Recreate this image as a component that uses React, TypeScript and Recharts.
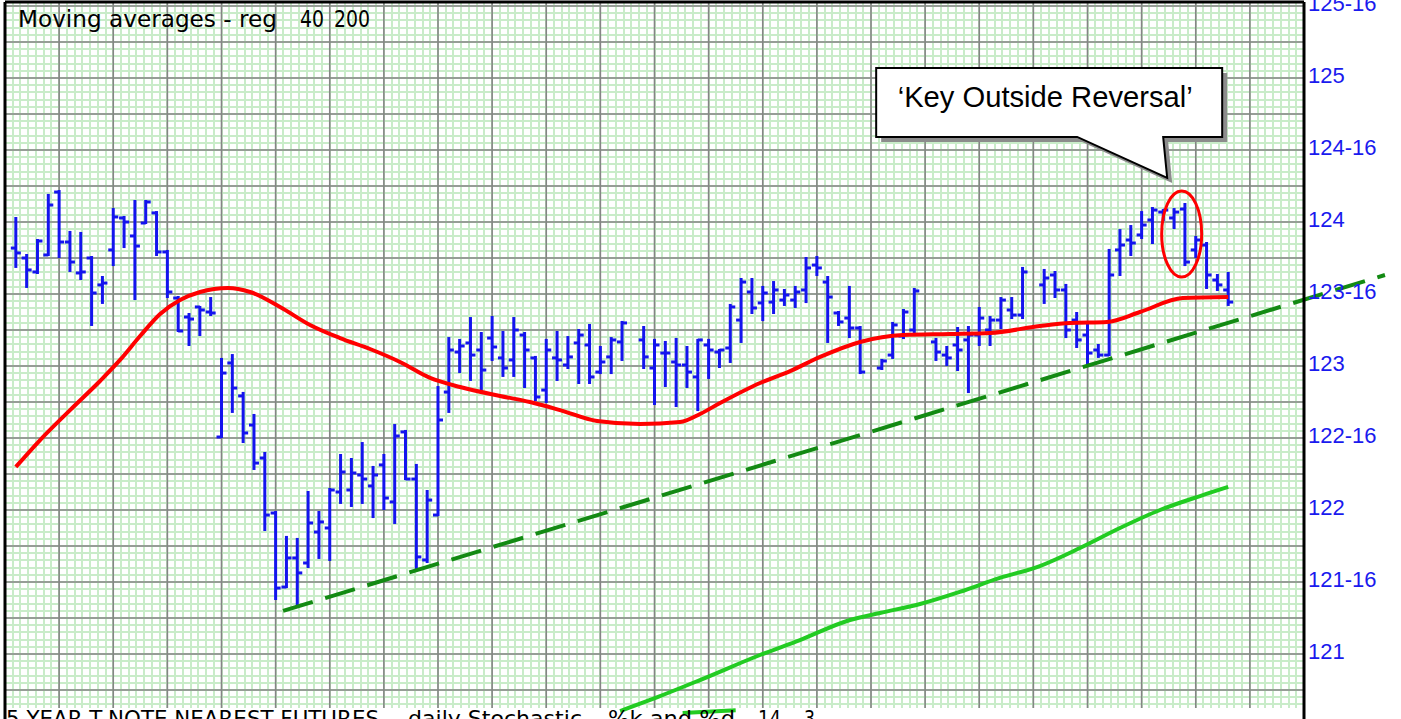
import React from "react";
import {
  ComposedChart,
  Bar,
  Line,
  XAxis,
  YAxis,
  CartesianGrid,
  ReferenceLine,
  ReferenceDot,
  ReferenceArea,
} from "recharts";

// ---------------- DATA ----------------
// trading-day slot index (holidays are null bars)
const dayIndex: number[] = Array.from({ length: 113 }, (_, i) => i);

const highs: (number | null)[] = [
  124.028, 123.771, 123.875, 124.188, 124.215, 123.931, 123.924, 123.757, 123.618, 124.09,
  124.035, 124.146, 124.146, 124.069, 123.799, 123.479, 123.361, 123.41, 123.472, 123.049,
  123.076, 122.813, 122.66, 122.396, 121.986, 121.813, 121.799, 122.125, 121.986, 122.146,
  122.382, 122.354, 122.465, 122.299, 122.382, 122.59, 122.549, 122.313, 122.132, 122.854,
  123.194, 123.181, 123.333, 123.229, 123.34, 123.236, 123.333, 123.229, 123.063, 123.181,
  123.236, 123.201, 123.25, 123.285, 123.132, 123.194, 123.306, null, 123.271, 123.181,
  123.167, 123.188, 123.132, 123.181, 123.181, 123.111, 123.424, 123.604, 123.604, 123.549,
  123.583, 123.528, 123.549, 123.75, 123.757, 123.618, 123.375, 123.549, 123.271, null,
  123.042, 123.299, 123.389, 123.535, null, 123.188, 123.132, 123.264, 123.271, 123.403,
  123.34, 123.472, 123.472, 123.681, null, 123.667, 123.653, 123.563, 123.368, 123.285,
  123.146, 123.806, 123.944, 123.972, 124.069, 124.097, 124.083, 124.09, 124.125, 123.896,
  123.854, 123.632, 123.646,
];

const lows: (number | null)[] = [
  123.688, 123.549, 123.646, 123.771, 123.757, 123.66, 123.604, 123.285, 123.438, 123.701,
  123.826, 123.465, 123.993, 123.771, 123.479, 123.243, 123.146, 123.215, 123.354, 122.507,
  122.681, 122.472, 122.285, 121.861, 121.382, 121.465, 121.333, 121.604, 121.667, 121.653,
  122.049, 122.028, 122.049, 121.951, 122.007, 121.91, 122.215, 121.59, 121.639, 121.965,
  122.681, 122.958, 122.903, 122.833, 123.042, 122.931, 122.931, 122.854, 122.764, 122.75,
  122.903, 122.986, 122.882, 122.882, 122.951, 122.951, 123.042, null, 122.986, 122.736,
  122.861, 122.722, 122.854, 122.694, 122.917, 122.993, 123.028, 123.167, 123.368, 123.319,
  123.368, 123.424, 123.41, 123.444, 123.632, 123.167, 123.285, 123.201, 122.951, null,
  122.979, 123.056, 123.194, 123.229, null, 123.042, 123.007, 122.972, 122.819, 123.146,
  123.146, 123.264, 123.333, 123.333, null, 123.438, 123.479, 123.201, 123.132, 123.021,
  123.063, 123.076, 123.632, 123.771, 123.889, 123.854, 124.014, 123.958, 123.701, 123.757,
  123.542, 123.528, 123.424,
];

const opens: (number | null)[] = [
  123.819, 123.75, 123.653, 123.771, 124.208, 123.861, 123.646, 123.75, 123.563, 123.806,
  124.028, 123.903, 123.993, 124.063, 123.792, 123.472, 123.34, 123.41, 123.375, 122.507,
  123.021, 122.792, 122.59, 122.361, 121.979, 121.465, 121.667, 121.632, 121.847, 121.875,
  122.125, 122.139, 122.243, 122.167, 122.313, 122.056, 122.542, 122.215, 121.653, 121.965,
  122.819, 123.097, 123.16, 123.111, 123.194, 123.056, 123.042, 123.215, 123.056, 122.833,
  123.056, 123.007, 123.16, 123.146, 122.958, 123.063, 123.167, null, 123.181, 122.986,
  123.09, 123.028, 123.007, 122.924, 123.146, 123.097, 123.125, 123.319, 123.514, 123.438,
  123.444, 123.458, 123.458, 123.528, 123.701, 123.583, 123.368, 123.333, 123.264, null,
  122.986, 123.076, 123.208, 123.25, null, 123.167, 123.076, 123.146, 123.181, 123.215,
  123.25, 123.319, 123.389, 123.354, null, 123.563, 123.632, 123.528, 123.319, 123.215,
  123.111, 123.076, 123.806, 123.875, 123.91, 124.014, 124.069, 124.028, 124.09, 123.806,
  123.84, 123.597, 123.528,
];

const closes: (number | null)[] = [
  123.785, 123.667, 123.868, 124.118, 123.861, 123.722, 123.653, 123.507, 123.576, 124.035,
  124.0, 123.833, 124.139, 123.792, 123.514, 123.243, 123.326, 123.389, 123.368, 122.951,
  122.847, 122.535, 122.326, 121.965, 121.458, 121.667, 121.563, 121.91, 121.917, 122.139,
  122.264, 122.257, 122.215, 122.243, 122.083, 122.514, 122.215, 121.674, 122.069, 122.625,
  123.111, 123.139, 123.076, 122.972, 123.132, 122.986, 123.25, 123.111, 122.785, 123.111,
  123.042, 123.063, 123.215, 122.924, 123.028, 123.181, 123.299, null, 123.063, 123.146,
  123.09, 123.007, 122.958, 123.181, 123.111, 123.111, 123.41, 123.583, 123.403, 123.507,
  123.528, 123.493, 123.514, 123.681, 123.681, 123.479, 123.306, 123.264, 122.958, null,
  123.035, 123.285, 123.375, 123.521, null, 123.097, 123.056, 123.111, 123.215, 123.333,
  123.319, 123.458, 123.354, 123.653, null, 123.611, 123.528, 123.25, 123.181, 123.09,
  123.076, 123.632, 123.84, 123.854, 123.979, 124.083, 124.083, 124.069, 123.722, 123.875,
  123.632, 123.563, 123.444,
];

// 40-day moving average (red)
const ma40Index = [
  0, 2.24, 5.01, 7.78, 9.63, 11.48, 13.33, 15.17, 17.02, 19.61, 21.64, 24.41, 27.18, 29.95,
  32.72, 35.49, 38.27, 41.04, 44.73, 47.5, 50.27, 53.69, 57.66, 61.36, 63.21, 65.06, 68.75,
  71.53, 74.3, 78.0, 81.96, 86.3, 90.0, 94.6, 97.4, 100.8, 103.85, 107.8, 112,
];
const ma40Values = [
  122.299, 122.486, 122.694, 122.896, 123.042, 123.208, 123.361, 123.458, 123.514, 123.542,
  123.514, 123.41, 123.285, 123.194, 123.118, 123.028, 122.917, 122.854, 122.792, 122.75,
  122.694, 122.618, 122.597, 122.611, 122.667, 122.743, 122.882, 122.965, 123.063, 123.167,
  123.215, 123.222, 123.229, 123.278, 123.299, 123.306, 123.375, 123.472, 123.479,
];

// 200-day moving average (green)
const ma200Index = [
  55.82, 58.6, 63.2, 68.75, 72.44, 77.06, 79.83, 83.53, 87.2, 90.9, 94.6, 98.3, 102, 105.7,
  109.4, 112,
];
const ma200Values = [
  120.604, 120.681, 120.819, 120.993, 121.097, 121.236, 121.285, 121.347, 121.431, 121.528,
  121.611, 121.736, 121.875, 122.0, 122.097, 122.16,
];

// hand-drawn support trend line (dashed)
const trendIndex = [24.69, 126.48];
const trendValues = [121.299, 123.632];

// stochastic panel fragment visible at bottom
const stochIndex = [61.6, 66.5];
const stochValues = [120.59, 120.61];

const yTickValues = [121, 121.5, 122, 122.5, 123, 123.5, 124, 124.5, 125, 125.5];

// annotations
const calloutTip = { i: 106.36, v: 124.306 };
const reversalBar = { i: 107.7, v: 123.917 };
const calloutText = "\u2018Key Outside Reversal\u2019";

// ---------------- LAYOUT ----------------
const W = 1401;
const H = 719;
const X_DOMAIN: [number, number] = [-1, 119];
const Y_DOMAIN: [number, number] = [120.5486, 125.5278];
const PANEL_SPLIT = 120.625;

const BLUE = "#1414ee";
const RED = "#ff0000";
const GREEN = "#22cc22";
const DARK_GREEN = "#138a13";
const GRID_GREEN = "#c9ecc9";

const bars = dayIndex.map((i, k) => ({
  i,
  high: highs[k],
  low: lows[k],
  open: opens[k],
  close: closes[k],
}));
const ma40 = ma40Index.map((i, k) => ({ i, v: ma40Values[k] }));
const ma200 = ma200Index.map((i, k) => ({ i, v: ma200Values[k] }));

const range = (a: number, b: number, step: number) => {
  const out: number[] = [];
  for (let v = a; v <= b + 1e-9; v += step) out.push(Math.round(v * 10000) / 10000);
  return out;
};
const majorX = range(-1, 119, 5);
const minorX = range(-1, 119, 5 / 7);
const majorY = range(120.5, 125.5, 0.25);
const minorY = range(120.55, 125.5, 0.05);

const fmt = (v: number) => {
  const w = Math.floor(v + 1e-9);
  return v - w > 0.01 ? `${w}-16` : `${w}`;
};

const OhlcShape = (props: any) => {
  const { x, y, width, height, payload } = props;
  if (!payload || payload.high == null) return null;
  const top = Math.min(y, y + height);
  const bot = Math.max(y, y + height);
  const span = payload.high - payload.low;
  const toPx = (v: number) => (span === 0 ? top : top + ((payload.high - v) / span) * (bot - top));
  const cx = x + width / 2;
  const oy = toPx(payload.open);
  const cy = toPx(payload.close);
  return (
    <g stroke={BLUE} strokeWidth={3}>
      <line x1={cx} x2={cx} y1={top - 1} y2={bot + 1} />
      <line x1={cx - 5} x2={cx} y1={oy} y2={oy} />
      <line x1={cx} x2={cx + 5} y1={cy} y2={cy} />
    </g>
  );
};

const YTick = (props: any) => {
  const { x, y, payload } = props;
  return (
    <text
      x={x}
      y={y + 5}
      fill="#1a1aee"
      fontSize={22}
      fontFamily="'Liberation Sans', Arial, sans-serif"
      textAnchor="start"
    >
      {fmt(payload.value)}
    </text>
  );
};

const CalloutShape = (props: any) => {
  const { cx, cy } = props;
  if (cx == null || cy == null) return null;
  const left = cx - 291;
  const right = cx + 55;
  const top = cy - 110;
  const bottom = cy - 41;
  const path = `M${left},${top} L${right},${top} L${right},${bottom} L${cx - 4},${bottom} L${cx},${cy} L${cx - 90},${bottom} L${left},${bottom} Z`;
  return (
    <g>
      <path d={path} transform="translate(5,5)" fill="#8c8c8c" stroke="none" />
      <path d={path} fill="#ffffff" stroke="#000" strokeWidth={2} />
      <text
        x={cx - 122}
        y={cy - 71}
        fontSize={29}
        fontFamily="'Liberation Sans', Arial, sans-serif"
        textAnchor="middle"
        fill="#000"
        textLength={295}
        lengthAdjust="spacingAndGlyphs"
      >
        {calloutText}
      </text>
    </g>
  );
};

const EllipseShape = (props: any) => {
  const { cx, cy } = props;
  if (cx == null || cy == null) return null;
  return <ellipse cx={cx} cy={cy} rx={20} ry={43} fill="none" stroke={RED} strokeWidth={3} />;
};

export default function App() {
  return (
    <div
      style={{
        position: "absolute",
        left: 0,
        top: 0,
        width: W,
        height: H,
        overflow: "hidden",
        background: "#ffffff",
      }}
    >
      <ComposedChart
        width={W}
        height={H}
        data={bars}
        margin={{ top: 2, right: 0, bottom: 0, left: 5 }}
      >
        <CartesianGrid
          stroke={GRID_GREEN}
          strokeWidth={2}
          horizontal={false}
          verticalValues={minorX}
          fill="#ffffff"
          shapeRendering="crispEdges"
        />
        <CartesianGrid
          stroke={GRID_GREEN}
          strokeWidth={2}
          vertical={false}
          horizontalValues={minorY}
          shapeRendering="crispEdges"
        />
        <CartesianGrid
          stroke="#858585"
          strokeWidth={1.6}
          horizontalValues={majorY}
          verticalValues={majorX}
        />
        <XAxis
          dataKey="i"
          type="number"
          domain={X_DOMAIN}
          allowDataOverflow
          interval={0}
          hide
        />
        <YAxis
          orientation="right"
          type="number"
          domain={Y_DOMAIN}
          allowDataOverflow
          ticks={yTickValues}
          interval={0}
          width={97}
          tickLine={false}
          tickSize={2}
          tickMargin={2}
          axisLine={{ stroke: "#000", strokeWidth: 3 }}
          tick={<YTick />}
        />
        <Bar
          dataKey={(d: any) => (d.high == null ? null : [d.low, d.high])}
          barSize={6}
          shape={<OhlcShape />}
          isAnimationActive={false}
        />
        <Line
          data={ma200}
          dataKey="v"
          type="monotone"
          stroke={GREEN}
          strokeWidth={4}
          dot={false}
          isAnimationActive={false}
        />
        <Line
          data={ma40}
          dataKey="v"
          type="monotone"
          stroke={RED}
          strokeWidth={4}
          dot={false}
          isAnimationActive={false}
        />
        <ReferenceArea
          y1={Y_DOMAIN[0]}
          y2={PANEL_SPLIT}
          fill="#ffffff"
          fillOpacity={1}
          stroke="none"
        />
        <ReferenceLine
          segment={[
            { x: stochIndex[0], y: stochValues[0] },
            { x: stochIndex[1], y: stochValues[1] },
          ]}
          stroke={GREEN}
          strokeWidth={4}
          ifOverflow="visible"
        />
        <ReferenceLine
          segment={[
            { x: trendIndex[0], y: trendValues[0] },
            { x: trendIndex[1], y: trendValues[1] },
          ]}
          stroke={DARK_GREEN}
          strokeWidth={4}
          strokeDasharray="31 13"
          ifOverflow="visible"
        />
        <ReferenceLine x={X_DOMAIN[0]} stroke="#000" strokeWidth={3} ifOverflow="visible" />
        <ReferenceLine y={Y_DOMAIN[1]} stroke="#000" strokeWidth={3} ifOverflow="visible" />
        <ReferenceDot
          x={reversalBar.i}
          y={reversalBar.v}
          r={1}
          ifOverflow="visible"
          shape={<EllipseShape />}
        />
        <ReferenceDot
          x={calloutTip.i}
          y={calloutTip.v}
          r={1}
          ifOverflow="visible"
          shape={<CalloutShape />}
        />
      </ComposedChart>
      <svg
        width={W}
        height={H}
        style={{ position: "absolute", left: 0, top: 0, pointerEvents: "none" }}
      >
        <g fontFamily="'DejaVu Sans', sans-serif" fill="#000">
          <text x={18} y={27} fontSize={23} textLength={259} lengthAdjust="spacingAndGlyphs">
            Moving averages - reg
          </text>
          <text x={300} y={27} fontSize={23} textLength={24} lengthAdjust="spacingAndGlyphs">
            40
          </text>
          <text x={334} y={27} fontSize={23} textLength={36} lengthAdjust="spacingAndGlyphs">
            200
          </text>
          <text x={6} y={726} fontSize={21} textLength={373} lengthAdjust="spacingAndGlyphs">
            5 YEAR T-NOTE NEAREST FUTURES
          </text>
          <text x={408} y={726} fontSize={21} textLength={189} lengthAdjust="spacingAndGlyphs">
            daily Stochastic -
          </text>
          <text x={608} y={726} fontSize={21} textLength={127} lengthAdjust="spacingAndGlyphs">
            %k and %d
          </text>
          <text x={758} y={726} fontSize={21} textLength={23} lengthAdjust="spacingAndGlyphs">
            14
          </text>
          <text x={804} y={726} fontSize={21} textLength={11} lengthAdjust="spacingAndGlyphs">
            3
          </text>
        </g>
      </svg>
    </div>
  );
}
